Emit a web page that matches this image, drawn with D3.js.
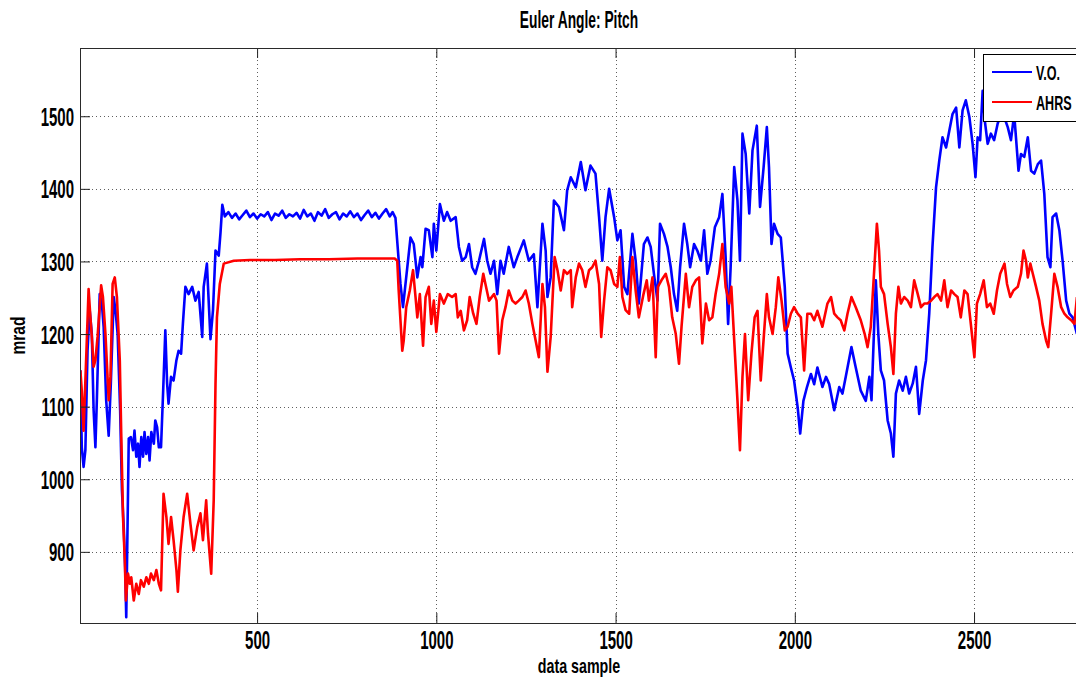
<!DOCTYPE html>
<html>
<head>
<meta charset="utf-8">
<script src="https://cdn.jsdelivr.net/npm/d3@7"></script>
<style>
  html, body { margin: 0; padding: 0; background: #fff; }
  svg { display: block; }
  text { font-family: "Liberation Sans", Arial, sans-serif; fill: #000; font-weight: bold; }
</style>
</head>
<body>
<svg id="chart" width="1076" height="681"></svg>
<script>
// ---------- data ----------
const title = "Euler Angle: Pitch";
const xLabel = "data sample";
const yLabel = "mrad";
const seriesNames = ["V.O.", "AHRS"];
const xTicks = [500, 1000, 1500, 2000, 2500];
const yTicks = [900, 1000, 1100, 1200, 1300, 1400, 1500];

const voSample = [7,11,16,21,27,33,39,44,49,53,61,67,72,79,86,92,100,105,111,118,123,128,132,135,139,142,148,154,158,163,168,172,177,182,186,191,196,200,205,212,216,221,226,232,238,244,249,253,260,267,275,281,288,293,300,309,319,328,337,347,351,360,370,377,384,393,398,403,
410,420,430,440,450,460,470,480,490,500,510,520,530,540,550,560,570,580,590,600,610,620,630,640,650,660,670,680,690,700,710,720,730,740,750,760,770,780,790,800,810,820,830,840,850,860,870,878,886,
900,907,928,937,947,956,961,970,979,989,993,1000,1010,1021,1030,1040,1054,1063,1072,1082,1091,1100,1109,1119,1133,1142,1151,1161,1170,1179,1188,1202,1216,1226,1244,1258,1272,1282,1296,1305,1310,1319,1328,1342,1356,1365,1375,1389,1403,1416,1430,1444,1454,1463,1472,1482,1496,1505,1514,1524,1533,1547,1556,1565,
1579,1589,1598,1607,1617,1624,1635,1645,1654,1663,1672,1680,1691,1700,1708,1719,1728,1738,1747,1756,1765,1777,1789,1798,1807,1814,1821,1831,1840,1847,1854,1863,1873,1882,1894,1903,1913,1922,1928,1935,1942,1952,1961,1972,1980,1989,1998,2008,2015,2024,2034,2045,2054,2063,2077,2087,2096,2110,2124,2133,2142,2158,2170,2184,2198,2208,2214,2222,2226,2233,2240,
2249,2259,2268,2275,2282,2291,2301,2310,2319,2329,2338,2347,2357,2366,2375,2384,2394,2403,2412,2422,2431,2440,2450,2459,2468,2477,2487,2496,2504,2510,2517,2524,2530,2538,2547,2556,2566,2575,2584,2594,2603,2612,2624,2631,2640,2650,2659,2668,2678,2687,2696,2705,2713,2719,2729,2738,2747,2757,2766,2775,2787];
const voValue = [1150,1044,1017,1040,1177,1233,1200,1095,1044,1109,1255,1242,1210,1109,1060,1132,1251,1233,1200,1095,985,934,879,810,948,1056,1058,1040,1067,1031,1049,1017,1058,1031,1065,1035,1058,1026,1065,1049,1081,1072,1044,1044,1122,1205,1132,1104,1141,1136,1164,1177,1173,1214,1265,1255,1265,1246,1258,1196,1265,1297,1193,1233,1315,1308,1340,1378,
1362,1368,1360,1366,1358,1364,1370,1361,1366,1359,1365,1362,1368,1357,1366,1363,1370,1360,1365,1362,1367,1359,1371,1362,1366,1356,1368,1363,1372,1360,1365,1368,1358,1366,1362,1369,1361,1366,1357,1364,1370,1361,1367,1359,1366,1372,1362,1368,1360,
1269,1237,1333,1324,1278,1306,1292,1345,1343,1306,1352,1315,1379,1356,1368,1356,1361,1320,1301,1306,1324,1292,1283,1301,1331,1301,1283,1301,1255,1301,1283,1320,1292,1306,1329,1301,1310,1237,1352,1315,1251,1278,1384,1375,1343,1398,1416,1402,1437,1398,1432,1421,1361,1301,1361,1400,1361,1329,1343,1265,1255,1338,1301,1242,
1324,1333,1320,1283,1246,1352,1338,1320,1292,1255,1232,1292,1352,1324,1292,1324,1315,1301,1343,1283,1301,1347,1361,1393,1306,1214,1292,1430,1384,1301,1476,1448,1366,1453,1487,1375,1430,1485,1430,1324,1352,1338,1333,1265,1173,1154,1136,1099,1063,1108,1127,1145,1131,1154,1127,1141,1131,1095,1127,1118,1141,1182,1154,1122,1108,1141,1109,1219,1274,1200,1150,
1136,1081,1063,1031,1118,1136,1122,1141,1118,1132,1155,1090,1136,1164,1228,1320,1402,1439,1471,1457,1480,1503,1512,1457,1508,1522,1499,1462,1416,1471,1467,1535,1494,1462,1476,1467,1490,1503,1499,1485,1467,1503,1425,1448,1444,1471,1425,1421,1434,1439,1393,1306,1292,1361,1366,1343,1301,1246,1228,1223,1200];

const ahrsSample = [7,11,16,24,30,35,39,44,49,55,65,70,77,86,91,97,103,109,117,121,126,131,134,140,145,149,156,163,170,176,184,191,198,204,212,219,226,232,239,247,253,260,267,275,279,286,295,305,314,323,333,342,349,358,363,372,379,384,388,396,407,435,480,550,620,700,780,850,884,
891,895,905,909,916,926,935,942,947,954,963,970,979,986,993,1000,1010,1021,1032,1044,1054,1060,1068,1077,1086,1093,1103,1112,1121,1131,1137,1147,1161,1168,1175,1184,1193,1202,1212,1221,1230,1240,1249,1258,1268,1277,1286,1296,1303,1310,1319,1330,1338,1347,1356,1365,1375,1379,1389,1398,1407,1416,1426,1435,1444,1454,1460,1468,1477,1486,1496,1505,1512,1519,1528,1538,1547,1556,1565,
1578,1587,1593,1603,1612,1618,1628,1640,1649,1658,1668,1677,1684,1696,1705,1714,1724,1733,1742,1752,1761,1770,1779,1789,1798,1807,1817,1823,1833,1840,1847,1854,1861,1870,1879,1888,1896,1905,1914,1922,1928,1938,1947,1954,1963,1972,1980,1989,1998,2008,2017,2026,2035,2045,2054,2063,2077,2091,2101,2110,2119,2128,2138,2147,2158,2170,2184,2195,2203,2212,2222,2229,2235,
2240,2249,2259,2268,2275,2282,2289,2296,2305,2315,2324,2333,2343,2352,2361,2370,2380,2389,2398,2408,2417,2426,2436,2445,2454,2463,2473,2482,2491,2501,2508,2517,2527,2536,2545,2555,2564,2573,2585,2592,2601,2610,2622,2631,2638,2645,2650,2657,2664,2673,2682,2691,2701,2707,2715,2724,2733,2743,2752,2761,2771,2780,2787];
const ahrsValue = [1150,1122,1067,1177,1262,1223,1196,1155,1164,1196,1267,1251,1200,1109,1141,1269,1278,1251,1164,1063,948,888,833,870,856,865,833,856,842,861,852,865,856,870,861,875,856,847,980,948,911,948,916,875,845,902,948,980,939,902,934,953,916,971,925,870,971,1131,1223,1269,1297,1301,1302,1302,1303,1303,1304,1304,1304,
1301,1260,1177,1191,1237,1260,1288,1251,1223,1255,1184,1251,1265,1214,1246,1203,1255,1242,1255,1251,1255,1223,1232,1205,1219,1251,1228,1214,1251,1283,1269,1246,1255,1246,1173,1219,1237,1260,1246,1242,1246,1251,1260,1242,1214,1191,1168,1269,1237,1148,1196,1306,1288,1260,1288,1283,1288,1237,1278,1297,1288,1265,1288,1292,1301,1269,1196,1246,1292,1288,1269,1265,1306,1251,1233,1228,1306,1260,1223,
1255,1274,1246,1278,1168,1265,1274,1283,1265,1223,1200,1159,1210,1283,1237,1265,1274,1278,1187,1242,1219,1223,1255,1283,1324,1265,1242,1265,1173,1109,1040,1141,1200,1109,1173,1223,1232,1136,1200,1255,1223,1200,1237,1278,1246,1205,1210,1228,1237,1228,1223,1150,1228,1228,1219,1232,1210,1242,1251,1228,1223,1219,1205,1228,1251,1237,1219,1200,1182,1210,1292,1352,1315,
1265,1255,1214,1182,1145,1228,1265,1242,1251,1246,1237,1274,1255,1237,1242,1242,1246,1251,1255,1246,1274,1237,1260,1255,1251,1223,1260,1255,1214,1168,1242,1255,1274,1237,1242,1228,1260,1283,1297,1269,1251,1260,1265,1283,1315,1301,1278,1297,1283,1265,1246,1214,1191,1182,1228,1283,1265,1237,1228,1223,1219,1214,1251];

const colors = ["#0000ff", "#ff0000"];

// ---------- layout ----------
const plot = { left: 80, top: 48, right: 1078, bottom: 623 };
const svg = d3.select("#chart");

const x = d3.scaleLinear().domain([6, 2790]).range([plot.left, plot.right]);
const y = d3.scaleLinear().domain([802, 1594]).range([plot.bottom, plot.top]);

svg.append("defs").append("clipPath").attr("id", "clip")
  .append("rect").attr("x", plot.left).attr("y", plot.top)
  .attr("width", plot.right - plot.left).attr("height", plot.bottom - plot.top);

svg.append("rect").attr("x", plot.left).attr("y", plot.top)
  .attr("width", plot.right - plot.left).attr("height", plot.bottom - plot.top)
  .attr("fill", "#fff");

// grid
const grid = svg.append("g").attr("stroke", "#444").attr("stroke-width", 1)
  .attr("stroke-dasharray", "1,3").attr("opacity", 0.85);
grid.selectAll("line.gx").data(xTicks).join("line").attr("class", "gx")
  .attr("x1", d => Math.round(x(d)) + 0.5).attr("x2", d => Math.round(x(d)) + 0.5)
  .attr("y1", plot.top).attr("y2", plot.bottom);
grid.selectAll("line.gy").data(yTicks).join("line").attr("class", "gy")
  .attr("y1", d => Math.round(y(d)) + 0.5).attr("y2", d => Math.round(y(d)) + 0.5)
  .attr("x1", plot.left).attr("x2", plot.right);

// lines
const line = d3.line().x(d => x(d[0])).y(d => y(d[1]));
const voData = voSample.map((s, i) => [s, voValue[i]]);
const ahrsData = ahrsSample.map((s, i) => [s, ahrsValue[i]]);
const lines = svg.append("g").attr("clip-path", "url(#clip)");
lines.append("path").datum(voData).attr("d", line)
  .attr("fill", "none").attr("stroke", colors[0]).attr("stroke-width", 2.6).attr("stroke-linejoin", "round");
lines.append("path").datum(ahrsData).attr("d", line)
  .attr("fill", "none").attr("stroke", colors[1]).attr("stroke-width", 2.6).attr("stroke-linejoin", "round");

// axes
const sxTick = 0.6;
const fontStack = '"Liberation Sans", Arial, sans-serif';
const xAxis = d3.axisBottom(x).tickValues(xTicks).tickSizeInner(-10).tickSizeOuter(0).tickFormat(d3.format("d"));
const gx = svg.append("g").attr("transform", `translate(0,${plot.bottom})`).call(xAxis);
gx.select(".domain").remove();
gx.selectAll(".tick line").attr("stroke", "#222");
gx.selectAll(".tick text").attr("y", 26).attr("dy", null)
  .attr("transform", `scale(${sxTick},1)`)
  .style("font-size", "25px").style("font-family", fontStack).style("font-weight", "bold").attr("fill", "#000");

const xAxisTop = d3.axisTop(x).tickValues(xTicks).tickSizeInner(-10).tickSizeOuter(0).tickFormat("");
const gxt = svg.append("g").attr("transform", `translate(0,${plot.top})`).call(xAxisTop);
gxt.select(".domain").remove();
gxt.selectAll(".tick line").attr("stroke", "#222");

const yAxis = d3.axisLeft(y).tickValues(yTicks).tickSizeInner(-10).tickSizeOuter(0).tickFormat(d3.format("d"));
const gy = svg.append("g").attr("transform", `translate(${plot.left},0)`).call(yAxis);
gy.select(".domain").remove();
gy.selectAll(".tick line").attr("stroke", "#222");
gy.selectAll(".tick text").attr("x", -6 / sxTick).attr("y", 9).attr("dy", null)
  .attr("transform", `scale(${sxTick},1)`)
  .style("font-size", "25px").style("font-family", fontStack).style("font-weight", "bold").attr("fill", "#000");

// frame
svg.append("rect").attr("x", plot.left + 0.5).attr("y", plot.top + 0.5)
  .attr("width", plot.right - plot.left).attr("height", plot.bottom - plot.top)
  .attr("fill", "none").attr("stroke", "#2a2a2a").attr("stroke-width", 1);

// title & labels
const cx = (plot.left + plot.right) / 2;
svg.append("text").attr("text-anchor", "middle")
  .attr("transform", `translate(${cx},28) scale(0.6,1)`)
  .style("font-size", "23px").text(title);
svg.append("text").attr("text-anchor", "middle")
  .attr("transform", `translate(${cx},673) scale(0.68,1)`)
  .style("font-size", "21px").text(xLabel);
svg.append("text").attr("text-anchor", "middle")
  .attr("transform", `translate(25,${(plot.top + plot.bottom) / 2}) rotate(-90) scale(0.74,1)`)
  .style("font-size", "21px").text(yLabel);

// legend
const lg = svg.append("g");
lg.append("rect").attr("x", 983.5).attr("y", 54.5).attr("width", 120).attr("height", 67)
  .attr("fill", "#fff").attr("stroke", "#000").attr("stroke-width", 1);
const legendY = [72, 102];
seriesNames.forEach((name, i) => {
  lg.append("line").attr("x1", 992).attr("x2", 1032).attr("y1", legendY[i]).attr("y2", legendY[i])
    .attr("stroke", colors[i]).attr("stroke-width", 2);
  lg.append("text").attr("transform", `translate(1036,${legendY[i] + 8}) scale(0.6,1)`)
    .style("font-size", "21px").text(name);
});
</script>
</body>
</html>
